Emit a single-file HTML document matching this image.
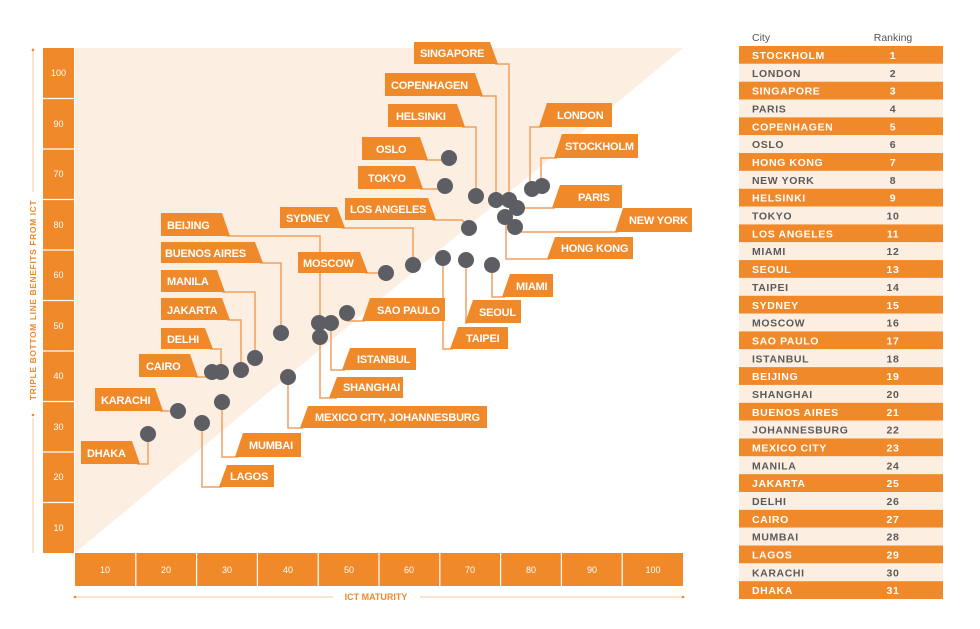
<!DOCTYPE html>
<html><head><meta charset="utf-8"><style>
html,body{margin:0;padding:0;background:#fff;}
svg{display:block;font-family:"Liberation Sans",sans-serif;}
.t{fill:#fff;font-weight:bold;font-size:11px;letter-spacing:-0.2px;}
.ax{fill:#fff;font-size:9px;text-anchor:middle;}
.l{stroke:#f0a060;stroke-width:1.5;fill:none;}
.tag{fill:#f0892a;}
.d{fill:#5c5e63;}
.tb{font-size:10.5px;font-weight:bold;letter-spacing:0.6px;}
</style></head><body>
<svg width="980" height="629" viewBox="0 0 980 629">
<!-- background triangle -->
<polygon points="75,48 683,48 75,553" fill="#fdeee2"/>
<!-- Y axis column -->
<g>
<rect x="43" y="48" width="31" height="505" fill="#f0892a"/>
<g stroke="#fff" stroke-width="1.2">
<line x1="43" y1="98.5" x2="74" y2="98.5"/><line x1="43" y1="149" x2="74" y2="149"/><line x1="43" y1="199.5" x2="74" y2="199.5"/><line x1="43" y1="250" x2="74" y2="250"/><line x1="43" y1="300.5" x2="74" y2="300.5"/><line x1="43" y1="351" x2="74" y2="351"/><line x1="43" y1="401.5" x2="74" y2="401.5"/><line x1="43" y1="452" x2="74" y2="452"/><line x1="43" y1="502.5" x2="74" y2="502.5"/>
</g>
<text class="ax" x="58.5" y="76">100</text><text class="ax" x="58.5" y="127">90</text><text class="ax" x="58.5" y="177">70</text><text class="ax" x="58.5" y="228">80</text><text class="ax" x="58.5" y="278">60</text><text class="ax" x="58.5" y="329">50</text><text class="ax" x="58.5" y="379">40</text><text class="ax" x="58.5" y="430">30</text><text class="ax" x="58.5" y="480">20</text><text class="ax" x="58.5" y="531">10</text>
</g>
<!-- X axis row -->
<rect x="75" y="553" width="608" height="33" fill="#f0892a"/>
<g stroke="#fff" stroke-width="1.2">
<line x1="135.8" y1="553" x2="135.8" y2="586"/><line x1="196.6" y1="553" x2="196.6" y2="586"/><line x1="257.4" y1="553" x2="257.4" y2="586"/><line x1="318.2" y1="553" x2="318.2" y2="586"/><line x1="379" y1="553" x2="379" y2="586"/><line x1="439.8" y1="553" x2="439.8" y2="586"/><line x1="500.6" y1="553" x2="500.6" y2="586"/><line x1="561.4" y1="553" x2="561.4" y2="586"/><line x1="622.2" y1="553" x2="622.2" y2="586"/>
</g>
<g class="ax"><text class="ax" x="105" y="573">10</text><text class="ax" x="166" y="573">20</text><text class="ax" x="227" y="573">30</text><text class="ax" x="288" y="573">40</text><text class="ax" x="349" y="573">50</text><text class="ax" x="409" y="573">60</text><text class="ax" x="470" y="573">70</text><text class="ax" x="531" y="573">80</text><text class="ax" x="592" y="573">90</text><text class="ax" x="653" y="573">100</text></g>
<!-- axis titles -->
<line x1="75" y1="597" x2="333" y2="597" stroke="#f5c9a0" stroke-width="1"/>
<line x1="420" y1="597" x2="683" y2="597" stroke="#f5c9a0" stroke-width="1"/>
<circle cx="75" cy="597" r="1.3" fill="#f0892a"/><circle cx="683" cy="597" r="1.3" fill="#f0892a"/>
<text x="376" y="600" font-size="9" font-weight="bold" fill="#f0892a" text-anchor="middle">ICT MATURITY</text>
<line x1="33" y1="48" x2="33" y2="192" stroke="#f5c9a0" stroke-width="1"/>
<line x1="33" y1="418" x2="33" y2="553" stroke="#f5c9a0" stroke-width="1"/>
<circle cx="33" cy="50" r="1.3" fill="#f0892a"/><circle cx="33" cy="415" r="1.3" fill="#f0892a"/>
<text transform="translate(36,300) rotate(-90)" font-size="8.5" font-weight="bold" fill="#f0892a" text-anchor="middle" letter-spacing="0.6">TRIPLE BOTTOM LINE BENEFITS FROM ICT</text>

<!-- leader lines -->
<g class="l">
<polyline points="495,64 509,64 509,200"/>
<polyline points="480,96 496,96 496,200"/>
<polyline points="462,127 476,127 476,196"/>
<polyline points="425,160 449,160"/>
<polyline points="420,189 445,189"/>
<polyline points="433,220 462,220 469,228"/>
<polyline points="342,228 413,228 413,265"/>
<polyline points="227,236 320,236 320,398 337,398"/>
<polyline points="260,263 281,263 281,333"/>
<polyline points="222,292 255,292 255,358"/>
<polyline points="227,320 241,320 241,370"/>
<polyline points="210,349 221,349 221,372"/>
<polyline points="195,377 212,377"/>
<polyline points="160,411 178,411"/>
<polyline points="137,464 148,464 148,434"/>
<polyline points="202,423 202,487 222,487"/>
<polyline points="222,402 222,457 238,457"/>
<polyline points="288,377 288,428 303,428"/>
<polyline points="331,323 331,370 345,370"/>
<polyline points="365,273 386,273"/>
<polyline points="347,321 365,321"/>
<polyline points="443,258 443,349 453,349"/>
<polyline points="466,260 466,323 468,323"/>
<polyline points="492,265 492,297 505,297"/>
<polyline points="506,217 506,259 550,259"/>
<polyline points="515,232 618,232"/>
<polyline points="517,208 555,208"/>
<polyline points="530,189 530,127 542,127"/>
<polyline points="541,186 541,158 557,158"/>
</g>

<!-- tags: left style -->
<g class="tag">
<polygon points="414,42 490,42 498,64 414,64"/>
<polygon points="385,73 475,73 483,96 385,96"/>
<polygon points="388,104 457,104 465,127 388,127"/>
<polygon points="362,137 420,137 428,160 362,160"/>
<polygon points="358,166 415,166 423,189 358,189"/>
<polygon points="345,198 428,198 436,220 345,220"/>
<polygon points="280,207 337,207 345,228 280,228"/>
<polygon points="298,252 360,252 368,273 298,273"/>
<polygon points="161,213 222,213 230,236 161,236"/>
<polygon points="161,242 255,242 263,263 161,263"/>
<polygon points="161,270 217,270 225,292 161,292"/>
<polygon points="161,298 222,298 230,320 161,320"/>
<polygon points="161,328 205,328 213,349 161,349"/>
<polygon points="139,354 190,354 198,377 139,377"/>
<polygon points="95,388 155,388 163,411 95,411"/>
<polygon points="81,441 132,441 140,464 81,464"/>
<!-- right style -->
<polygon points="547,103 612,103 612,127 539,127"/>
<polygon points="562,134 638,134 638,158 554,158"/>
<polygon points="560,185 622,185 622,208 552,208"/>
<polygon points="623,208 692,208 692,232 615,232"/>
<polygon points="555,237 633,237 633,259 547,259"/>
<polygon points="510,274 553,274 553,297 502,297"/>
<polygon points="370,298 445,298 445,321 362,321"/>
<polygon points="473,300 521,300 521,323 465,323"/>
<polygon points="458,327 508,327 508,349 450,349"/>
<polygon points="350,348 416,348 416,370 342,370"/>
<polygon points="337,377 403,377 403,398 329,398"/>
<polygon points="308,406 487,406 487,428 300,428"/>
<polygon points="243,433 301,433 301,457 235,457"/>
<polygon points="227,465 274,465 274,487 219,487"/>
</g>
<g class="t">
<text x="420" y="57">SINGAPORE</text>
<text x="391" y="89">COPENHAGEN</text>
<text x="396" y="120">HELSINKI</text>
<text x="376" y="153">OSLO</text>
<text x="368" y="182">TOKYO</text>
<text x="350" y="213">LOS ANGELES</text>
<text x="286" y="222">SYDNEY</text>
<text x="303" y="267">MOSCOW</text>
<text x="167" y="229">BEIJING</text>
<text x="165" y="257">BUENOS AIRES</text>
<text x="167" y="285">MANILA</text>
<text x="167" y="314">JAKARTA</text>
<text x="167" y="343">DELHI</text>
<text x="146" y="370">CAIRO</text>
<text x="101" y="404">KARACHI</text>
<text x="87" y="457">DHAKA</text>
<text x="557" y="119">LONDON</text>
<text x="565" y="150">STOCKHOLM</text>
<text x="578" y="201">PARIS</text>
<text x="629" y="224">NEW YORK</text>
<text x="561" y="252">HONG KONG</text>
<text x="516" y="290">MIAMI</text>
<text x="377" y="314">SAO PAULO</text>
<text x="479" y="316">SEOUL</text>
<text x="466" y="342">TAIPEI</text>
<text x="357" y="363">ISTANBUL</text>
<text x="343" y="391">SHANGHAI</text>
<text x="315" y="421">MEXICO CITY, JOHANNESBURG</text>
<text x="249" y="449">MUMBAI</text>
<text x="230" y="480">LAGOS</text>
</g>

<!-- dots -->
<g class="d">
<circle cx="449" cy="158" r="8"/><circle cx="445" cy="186" r="8"/><circle cx="476" cy="196" r="8"/>
<circle cx="496" cy="200" r="8"/><circle cx="509" cy="200" r="8"/><circle cx="517" cy="208" r="8"/>
<circle cx="505" cy="217" r="8"/><circle cx="515" cy="227" r="8"/><circle cx="532" cy="189" r="8"/>
<circle cx="542" cy="186" r="8"/><circle cx="469" cy="228" r="8"/>
<circle cx="413" cy="265" r="8"/><circle cx="386" cy="273" r="8"/>
<circle cx="443" cy="258" r="8"/><circle cx="466" cy="260" r="8"/><circle cx="492" cy="265" r="8"/>
<circle cx="347" cy="313" r="8"/><circle cx="319" cy="323" r="8"/><circle cx="331" cy="323" r="8"/>
<circle cx="320" cy="337" r="8"/><circle cx="281" cy="333" r="8"/><circle cx="288" cy="377" r="8"/>
<circle cx="255" cy="358" r="8"/><circle cx="241" cy="370" r="8"/><circle cx="212" cy="372" r="8"/><circle cx="221" cy="372" r="8"/>
<circle cx="178" cy="411" r="8"/><circle cx="202" cy="423" r="8"/><circle cx="222" cy="402" r="8"/><circle cx="148" cy="434" r="8"/>
</g>

<!-- table -->
<text x="752" y="41" font-size="10.5" fill="#555">City</text>
<text x="893" y="41" font-size="10.5" fill="#555" text-anchor="middle">Ranking</text>
<g id="tbl"></g>
<g class="tb">
<rect x="739" y="46" width="204" height="17.84" fill="#f0892a"/>
<rect x="739" y="63.84" width="204" height="17.84" fill="#fdeee2"/>
<rect x="739" y="81.68" width="204" height="17.84" fill="#f0892a"/>
<rect x="739" y="99.52" width="204" height="17.84" fill="#fdeee2"/>
<rect x="739" y="117.36" width="204" height="17.84" fill="#f0892a"/>
<rect x="739" y="135.2" width="204" height="17.84" fill="#fdeee2"/>
<rect x="739" y="153.04" width="204" height="17.84" fill="#f0892a"/>
<rect x="739" y="170.88" width="204" height="17.84" fill="#fdeee2"/>
<rect x="739" y="188.72" width="204" height="17.84" fill="#f0892a"/>
<rect x="739" y="206.56" width="204" height="17.84" fill="#fdeee2"/>
<rect x="739" y="224.4" width="204" height="17.84" fill="#f0892a"/>
<rect x="739" y="242.24" width="204" height="17.84" fill="#fdeee2"/>
<rect x="739" y="260.08" width="204" height="17.84" fill="#f0892a"/>
<rect x="739" y="277.92" width="204" height="17.84" fill="#fdeee2"/>
<rect x="739" y="295.76" width="204" height="17.84" fill="#f0892a"/>
<rect x="739" y="313.6" width="204" height="17.84" fill="#fdeee2"/>
<rect x="739" y="331.44" width="204" height="17.84" fill="#f0892a"/>
<rect x="739" y="349.28" width="204" height="17.84" fill="#fdeee2"/>
<rect x="739" y="367.12" width="204" height="17.84" fill="#f0892a"/>
<rect x="739" y="384.96" width="204" height="17.84" fill="#fdeee2"/>
<rect x="739" y="402.8" width="204" height="17.84" fill="#f0892a"/>
<rect x="739" y="420.64" width="204" height="17.84" fill="#fdeee2"/>
<rect x="739" y="438.48" width="204" height="17.84" fill="#f0892a"/>
<rect x="739" y="456.32" width="204" height="17.84" fill="#fdeee2"/>
<rect x="739" y="474.16" width="204" height="17.84" fill="#f0892a"/>
<rect x="739" y="492" width="204" height="17.84" fill="#fdeee2"/>
<rect x="739" y="509.84" width="204" height="17.84" fill="#f0892a"/>
<rect x="739" y="527.68" width="204" height="17.84" fill="#fdeee2"/>
<rect x="739" y="545.52" width="204" height="17.84" fill="#f0892a"/>
<rect x="739" y="563.36" width="204" height="17.84" fill="#fdeee2"/>
<rect x="739" y="581.2" width="204" height="17.84" fill="#f0892a"/>
<g fill="#fff">
<text x="752" y="59">STOCKHOLM</text><text x="893" y="59" text-anchor="middle">1</text>
<text x="752" y="94.7">SINGAPORE</text><text x="893" y="94.7" text-anchor="middle">3</text>
<text x="752" y="130.4">COPENHAGEN</text><text x="893" y="130.4" text-anchor="middle">5</text>
<text x="752" y="166">HONG KONG</text><text x="893" y="166" text-anchor="middle">7</text>
<text x="752" y="201.7">HELSINKI</text><text x="893" y="201.7" text-anchor="middle">9</text>
<text x="752" y="237.4">LOS ANGELES</text><text x="893" y="237.4" text-anchor="middle">11</text>
<text x="752" y="273.1">SEOUL</text><text x="893" y="273.1" text-anchor="middle">13</text>
<text x="752" y="308.8">SYDNEY</text><text x="893" y="308.8" text-anchor="middle">15</text>
<text x="752" y="344.4">SAO PAULO</text><text x="893" y="344.4" text-anchor="middle">17</text>
<text x="752" y="380.1">BEIJING</text><text x="893" y="380.1" text-anchor="middle">19</text>
<text x="752" y="415.8">BUENOS AIRES</text><text x="893" y="415.8" text-anchor="middle">21</text>
<text x="752" y="451.5">MEXICO CITY</text><text x="893" y="451.5" text-anchor="middle">23</text>
<text x="752" y="487.2">JAKARTA</text><text x="893" y="487.2" text-anchor="middle">25</text>
<text x="752" y="522.8">CAIRO</text><text x="893" y="522.8" text-anchor="middle">27</text>
<text x="752" y="558.5">LAGOS</text><text x="893" y="558.5" text-anchor="middle">29</text>
<text x="752" y="594.2">DHAKA</text><text x="893" y="594.2" text-anchor="middle">31</text>
</g>
<g fill="#5a5a5a">
<text x="752" y="76.8">LONDON</text><text x="893" y="76.8" text-anchor="middle">2</text>
<text x="752" y="112.5">PARIS</text><text x="893" y="112.5" text-anchor="middle">4</text>
<text x="752" y="148.2">OSLO</text><text x="893" y="148.2" text-anchor="middle">6</text>
<text x="752" y="183.9">NEW YORK</text><text x="893" y="183.9" text-anchor="middle">8</text>
<text x="752" y="219.6">TOKYO</text><text x="893" y="219.6" text-anchor="middle">10</text>
<text x="752" y="255.2">MIAMI</text><text x="893" y="255.2" text-anchor="middle">12</text>
<text x="752" y="290.9">TAIPEI</text><text x="893" y="290.9" text-anchor="middle">14</text>
<text x="752" y="326.6">MOSCOW</text><text x="893" y="326.6" text-anchor="middle">16</text>
<text x="752" y="362.3">ISTANBUL</text><text x="893" y="362.3" text-anchor="middle">18</text>
<text x="752" y="398">SHANGHAI</text><text x="893" y="398" text-anchor="middle">20</text>
<text x="752" y="433.6">JOHANNESBURG</text><text x="893" y="433.6" text-anchor="middle">22</text>
<text x="752" y="469.3">MANILA</text><text x="893" y="469.3" text-anchor="middle">24</text>
<text x="752" y="505">DELHI</text><text x="893" y="505" text-anchor="middle">26</text>
<text x="752" y="540.7">MUMBAI</text><text x="893" y="540.7" text-anchor="middle">28</text>
<text x="752" y="576.4">KARACHI</text><text x="893" y="576.4" text-anchor="middle">30</text>
</g>
</g>
</svg>
</body></html>
